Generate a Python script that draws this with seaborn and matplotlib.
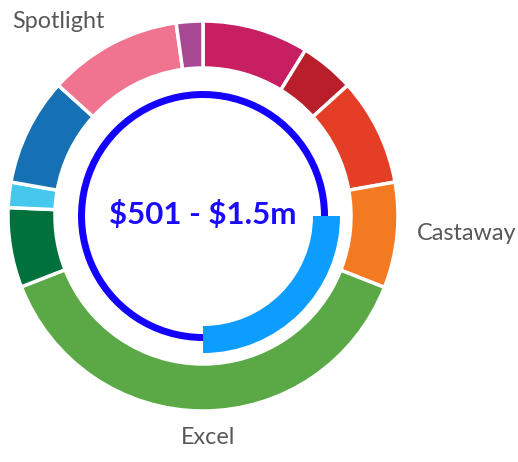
import matplotlib
matplotlib.use("Agg")
import matplotlib.pyplot as plt
import seaborn as sns
import numpy as np

# ---- data ----
segment_names = ["Seg A", "Seg B", "Seg C", "Castaway", "Excel", "Seg F",
                 "Seg G", "Seg H", "Spotlight", "Seg J"]
segment_values = [8.8, 4.5, 8.9, 8.75, 38.1, 6.6, 2.1, 8.9, 11.1, 2.2]
segment_colors = ["#c81f63", "#b81f2a", "#e43e26", "#f47a22", "#5aa846",
                  "#00703c", "#45c8ec", "#1571b3", "#f07490", "#a94993"]
shown_labels = ["Spotlight", "Castaway", "Excel"]

gauge_value = 25      # highlighted share of the inner ring
gauge_rest = 75
center_text = "$501 - $1.5m"

# ---- style ----
sns.set_theme(style="white")
plt.rcParams["font.family"] = ["Lato", "DejaVu Sans"]

W, H = 518, 462
fig = plt.figure(figsize=(W / 100, H / 100), dpi=100)
ax = fig.add_axes([0, 0, 1, 1])

cx, cy = 203, H - 216
R_out, R_in = 195, 148

wedges, _ = ax.pie(segment_values, colors=segment_colors, startangle=90,
                   counterclock=False, center=(cx, cy), radius=R_out,
                   wedgeprops=dict(width=R_out - R_in, edgecolor="white",
                                   linewidth=2.5))

# inner gauge: thin dark ring + thick light arc
ax.pie([gauge_value, gauge_rest], colors=["none", "#1400ff"], startangle=0,
       counterclock=False, center=(cx, cy), radius=125,
       wedgeprops=dict(width=7, edgecolor="none", linewidth=0))
ax.pie([gauge_value, gauge_rest], colors=["#0d9dff", "none"], startangle=0,
       counterclock=False, center=(cx, cy), radius=137,
       wedgeprops=dict(width=27, edgecolor="none", linewidth=0))

# outside labels
label_pos = {"Spotlight": (105, H - 21, "right"),
             "Castaway": (417, H - 234, "left"),
             "Excel": (cx + 5, H - 438, "center")}
for name in segment_names:
    if name not in shown_labels:
        continue
    x, y, ha = label_pos[name]
    ax.text(x, y, name, ha=ha, va="center", fontsize=16.8, color="#585858",
            parse_math=False)

ax.text(cx, cy + 1, center_text, ha="center", va="center", fontsize=22.5,
        fontweight="bold", color="#1a0aff", parse_math=False)

ax.set_xlim(0, W)
ax.set_ylim(0, H)
ax.set_aspect("equal")
ax.axis("off")
fig.savefig("out.png", dpi=100)
